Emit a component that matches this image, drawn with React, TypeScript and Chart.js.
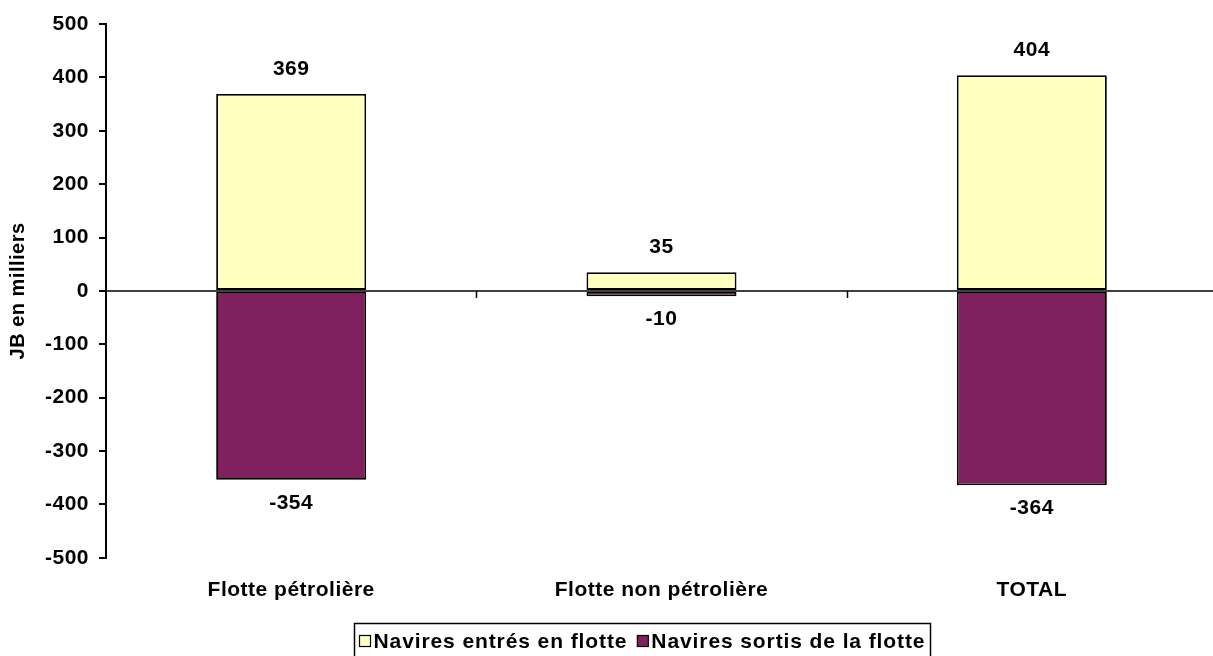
import React, { useEffect, useRef } from 'react';
import { Chart, registerables } from 'chart.js';

Chart.register(...registerables);

const categories = ['Flotte pétrolière', 'Flotte non pétrolière', 'TOTAL'];
const entres = [369, 35, 404];
const sortis = [-354, -10, -364];
const seriesNames = ['Navires entrés en flotte', 'Navires sortis de la flotte'];
const Y_MIN = -500;
const Y_MAX = 500;
const Y_STEP = 100;
const yTitle = 'JB en milliers';

const FONT = '"Liberation Sans", Arial, Helvetica, sans-serif';
const COLORS = ['#FFFFC0', '#80205E'];
const FS = 21;

export default function App() {
  const ref = useRef<HTMLCanvasElement>(null);

  useEffect(() => {
    const canvas = ref.current!;
    const spacing = (chart: any) => {
      (chart.ctx as any).letterSpacing = '0.5px';
    };
    const decor = {
      id: 'decor',
      beforeUpdate: spacing,
      beforeLayout: spacing,
      beforeDraw: spacing,
      afterDatasetsDraw(chart: any) {
        const ctx = chart.ctx as CanvasRenderingContext2D;
        const { left, right } = chart.chartArea;
        const ys = chart.scales.y;
        const xs = chart.scales.x;
        const y0 = ys.getPixelForValue(0);
        ctx.save();
        ctx.strokeStyle = '#000';
        ctx.lineWidth = 1.5;
        ctx.beginPath();
        ctx.moveTo(left, y0);
        ctx.lineTo(right, y0);
        ctx.stroke();
        for (let i = 1; i < categories.length; i++) {
          const px = Math.round((xs.getPixelForValue(i - 1) + xs.getPixelForValue(i)) / 2) + 0.5;
          ctx.beginPath();
          ctx.moveTo(px, y0);
          ctx.lineTo(px, y0 + 7);
          ctx.stroke();
        }
        ctx.font = `bold ${FS}px ${FONT}`;
        ctx.fillStyle = '#000';
        ctx.textAlign = 'center';
        ctx.textBaseline = 'middle';
        chart.data.datasets.forEach((ds: any, di: number) => {
          const meta = chart.getDatasetMeta(di);
          meta.data.forEach((bar: any, i: number) => {
            const v = ds.data[i] as number;
            const py = v >= 0 ? bar.y - 25 : bar.y + 23;
            ctx.fillText(String(v), bar.x, py);
          });
        });
        ctx.restore();
      },
      afterDraw(chart: any) {
        const ctx = chart.ctx as CanvasRenderingContext2D;
        ctx.save();
        (ctx as any).letterSpacing = '0.9px';
        ctx.font = `bold ${FS}px ${FONT}`;
        const items = chart.data.datasets.map((ds: any) => ({
          n: ds.label as string,
          c: ds.backgroundColor as string,
          w: ctx.measureText(ds.label).width,
        }));
        const box = 11;
        const gap = 3;
        const itemGap = 10;
        const padX = 5;
        const total =
          items.reduce((s: number, it: any) => s + box + gap + it.w, 0) + itemGap * (items.length - 1);
        const bw = Math.round(total + padX * 2);
        const cx = 642;
        const top = 623.5;
        const bh = 40;
        const bx = Math.round(cx - bw / 2) + 0.5;
        ctx.strokeStyle = '#000';
        ctx.lineWidth = 1.5;
        ctx.strokeRect(bx, top, bw, bh);
        let x = bx + padX;
        const ty = 641;
        items.forEach((it: any) => {
          ctx.fillStyle = it.c;
          ctx.fillRect(x, ty - 5.5, box, box);
          ctx.lineWidth = 1.2;
          ctx.strokeRect(x, ty - 5.5, box, box);
          x += box + gap;
          ctx.fillStyle = '#000';
          ctx.textAlign = 'left';
          ctx.textBaseline = 'middle';
          ctx.fillText(it.n, x, ty + 1);
          x += it.w + itemGap;
        });
        ctx.restore();
      },
    };

    const chart = new Chart(canvas, {
      type: 'bar',
      data: {
        labels: categories,
        datasets: [
          {
            label: seriesNames[0],
            data: entres,
            backgroundColor: COLORS[0],
            borderColor: '#000',
            borderWidth: 1.8,
            borderSkipped: false,
            barPercentage: 0.405,
            categoryPercentage: 1,
          },
          {
            label: seriesNames[1],
            data: sortis,
            backgroundColor: COLORS[1],
            borderColor: '#000',
            borderWidth: 1.8,
            borderSkipped: false,
            barPercentage: 0.405,
            categoryPercentage: 1,
          },
        ],
      },
      options: {
        responsive: false,
        animation: false,
        layout: { padding: { left: 0, right: 23, top: 24, bottom: 33 } },
        plugins: { legend: { display: false }, tooltip: { enabled: false } },
        font: { family: FONT },
        scales: {
          x: {
            stacked: true,
            grid: { display: false, drawTicks: false },
            border: { display: false },
            ticks: {
              color: '#000',
              font: { family: FONT, size: FS, weight: 'bold' },
              padding: 20,
              maxRotation: 0,
              autoSkip: false,
            },
          },
          y: {
            stacked: true,
            min: Y_MIN,
            max: Y_MAX,
            ticks: {
              stepSize: Y_STEP,
              color: '#000',
              font: { family: FONT, size: FS, weight: 'bold' },
              padding: 10,
            },
            grid: { drawOnChartArea: false, drawTicks: true, tickLength: 7, color: '#000', lineWidth: 2 },
            border: { display: true, color: '#000', width: 2 },
            title: {
              display: true,
              text: yTitle,
              color: '#000',
              font: { family: FONT, size: 20, weight: 'bold' },
              padding: { top: 6, bottom: 0 },
            },
            afterFit(scale: any) {
              scale.width = 106;
            },
          },
        },
      } as any,
      plugins: [decor],
    });
    return () => chart.destroy();
  }, []);

  return (
    <div
      style={{
        position: 'fixed',
        left: 0,
        top: 0,
        width: 1213,
        height: 656,
        overflow: 'hidden',
        background: '#fff',
      }}
    >
      <canvas ref={ref} width={1240} height={656} style={{ display: 'block', width: 1240, height: 656 }} />
    </div>
  );
}
